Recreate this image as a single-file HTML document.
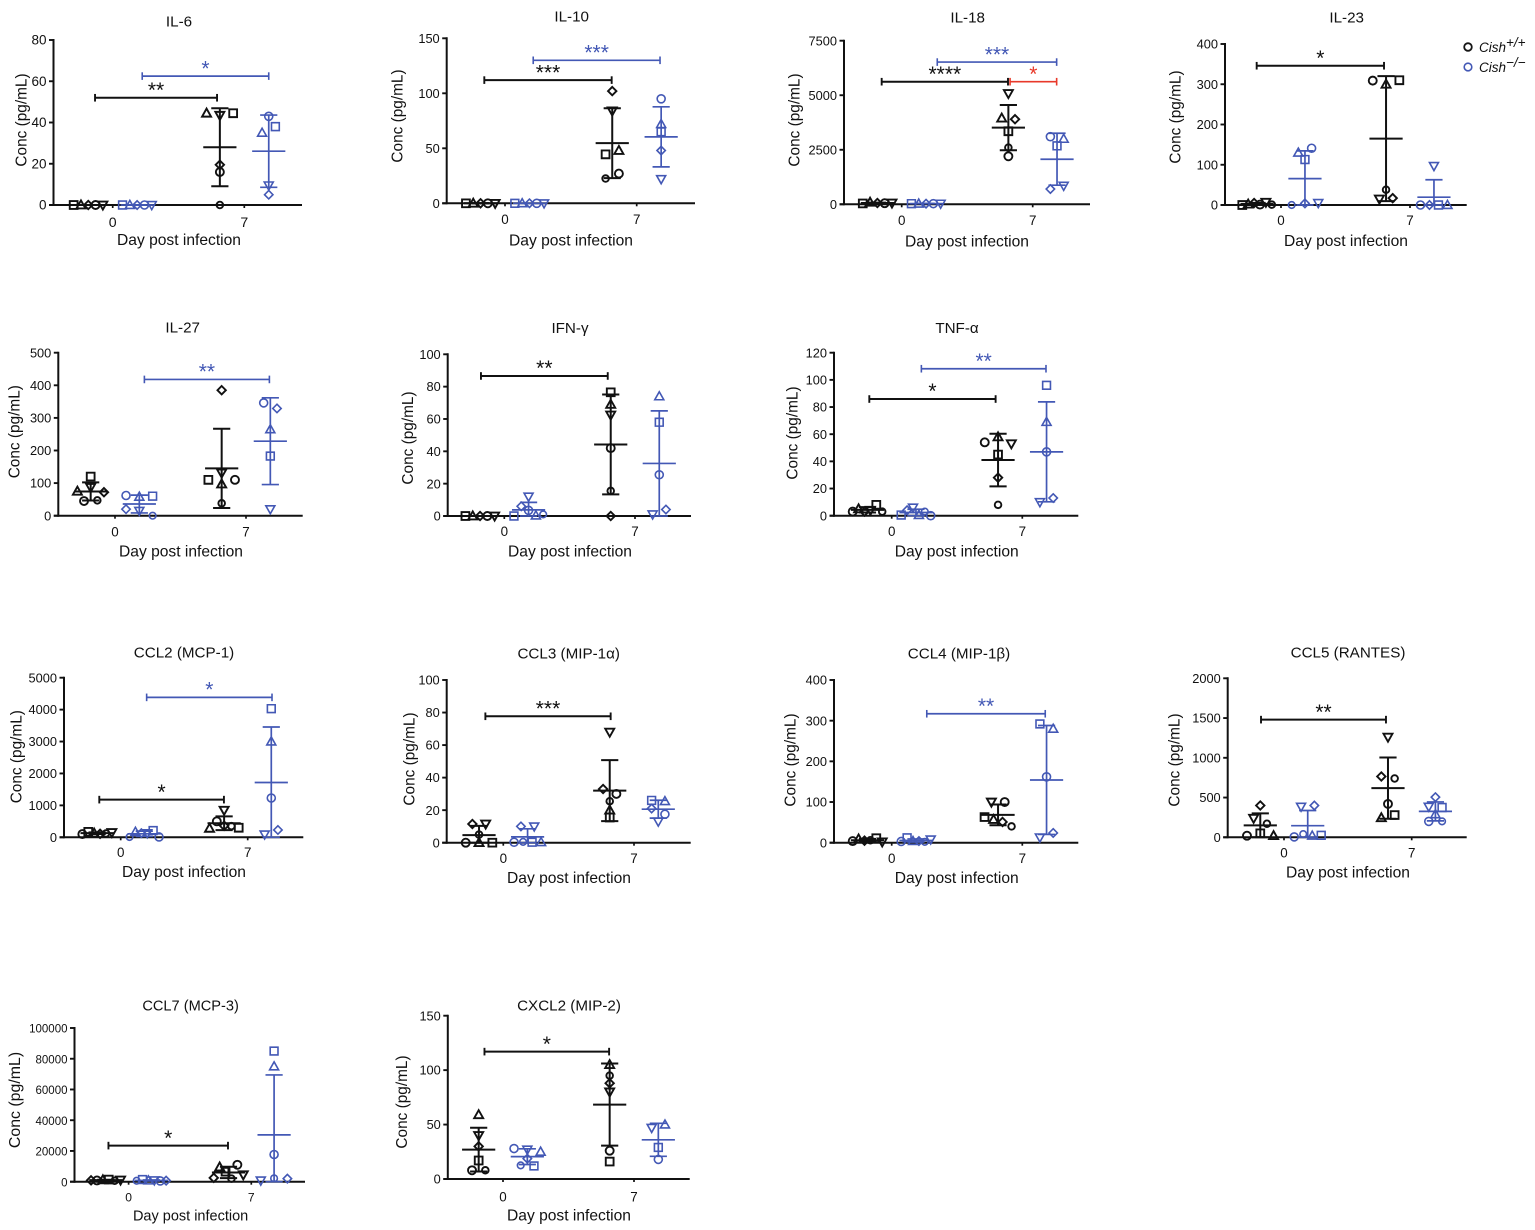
<!DOCTYPE html>
<html lang="en">
<head>
<meta charset="utf-8">
<title>Cytokine and chemokine concentrations in Cish+/+ and Cish-/- mice</title>
<style>
  html, body { margin: 0; padding: 0; background: #fff; width: 1535px; height: 1230px; overflow: hidden; }
  svg { display: block; }
  text { font-family: "Liberation Sans", "DejaVu Sans", sans-serif; fill: #111; }
</style>
</head>
<body>
<svg id="figure" xmlns="http://www.w3.org/2000/svg" width="1535" height="1230" viewBox="0 0 1535 1230">
  <g>
    <circle cx="1468" cy="47" r="3.8" fill="none" stroke="#151515" stroke-width="1.8"/>
    <text x="1479" y="52" font-size="13.5" font-style="italic">Cish<tspan dy="-5">+/+</tspan></text>
    <circle cx="1468" cy="67" r="3.8" fill="none" stroke="#4358b5" stroke-width="1.6"/>
    <text x="1479" y="72" font-size="13.5" font-style="italic">Cish<tspan dy="-5">−/−</tspan></text>
  </g>
</svg>
<script>
// Every group lists mice in the order: circle, square, triangle, diamond, down-triangle, hexagon.
const dayTicks = [0, 7];
const groupDays = [-1.3, 1.3, 5.7, 8.3];
const groupNames = ['wt-day0', 'ko-day0', 'wt-day7', 'ko-day7'];

const il6YTicks = [0, 20, 40, 60, 80];
const il6WtD0 = [0, 0, 0, 0, 0];
const il6KoD0 = [0, 0, 0, 0, 0];
const il6WtD7 = [16, 44.5, 44.5, 19.5, 43.5, 0];
const il6KoD7 = [43, 38, 35, 5, 9.5];
const il6Brackets = [[-0.94, 5.55, 52, '**', 'wt'], [1.57, 8.30, 62.5, '*', 'ko']];

const il10YTicks = [0, 50, 100, 150];
const il10WtD0 = [0, 0, 0, 0, 0];
const il10KoD0 = [0, 0, 0, 0, 0];
const il10WtD7 = [27, 44.5, 48, 102, 84, 22.5];
const il10KoD7 = [95, 65, 72, 48, 22];
const il10Brackets = [[-1.10, 5.67, 112, '***', 'wt'], [1.50, 8.24, 130, '***', 'ko']];

const il18YTicks = [0, 2500, 5000, 7500];
const il18WtD0 = [50, 40, 90, 60, 60];
const il18KoD0 = [30, 30, 30, 30, 30];
const il18WtD7 = [2200, 3350, 3950, 3900, 5080, 2600];
const il18KoD7 = [3100, 2680, 3000, 700, 850];
const il18Brackets = [[-1.07, 5.68, 5620, '****', 'wt'], [1.90, 8.28, 6520, '***', 'ko'], [5.79, 8.28, 5620, '*', 'diff']];

const il23YTicks = [0, 100, 200, 300, 400];
const il23WtD0 = [1, 0, 2, 5, 7, 1];
const il23KoD0 = [141, 113, 130, 4, 5, 0];
const il23WtD7 = [309, 310, 300, 17, 15, 38];
const il23KoD7 = [0, 0, 0, 0, 97];
const il23Brackets = [[-1.32, 5.59, 346, '*', 'wt']];

const il27YTicks = [0, 100, 200, 300, 400, 500];
const il27WtD0 = [45, 120, 75, 72, 87, 47];
const il27KoD0 = [62, 60, 58, 20, 15, 0];
const il27WtD7 = [110, 110, 97, 385, 131, 38];
const il27KoD7 = [346, 183, 265, 329, 20];
const il27Brackets = [[1.57, 8.25, 418, '**', 'ko']];

const ifnYTicks = [0, 20, 40, 60, 80, 100];
const ifnWtD0 = [0, 0, 0, 0, 0];
const ifnKoD0 = [3.5, 0, 0.3, 6, 12, 1];
const ifnWtD7 = [42, 76.5, 69, 0, 62.5, 15.5];
const ifnKoD7 = [25.5, 58, 74, 4, 1];
const ifnBrackets = [[-1.25, 5.54, 86.6, '**', 'wt']];

const tnfYTicks = [0, 20, 40, 60, 80, 100, 120];
const tnfWtD0 = [3, 8, 5, 3, 4, 3];
const tnfKoD0 = [0, 0.5, 0.5, 4, 6, 3];
const tnfWtD7 = [54, 45, 58, 28, 53, 8];
const tnfKoD7 = [47, 96, 69, 13, 10];
const tnfBrackets = [[-1.20, 5.57, 85.9, '*', 'wt'], [1.59, 8.27, 108.2, '**', 'ko']];

const ccl2YTicks = [0, 1000, 2000, 3000, 4000, 5000];
const ccl2WtD0 = [100, 170, 130, 110, 150, 120];
const ccl2KoD0 = [10, 210, 170, 130, 130, 10];
const ccl2WtD7 = [500, 300, 280, 360, 850, 350];
const ccl2KoD7 = [1230, 4030, 3000, 230, 90];
const ccl2Brackets = [[-1.18, 5.69, 1180, '*', 'wt'], [1.43, 8.34, 4384, '*', 'ko']];

const ccl3YTicks = [0, 20, 40, 60, 80, 100];
const ccl3WtD0 = [0, 0, 0, 11.5, 11.5, 5];
const ccl3KoD0 = [0.3, 0.3, 0.3, 10, 10, 0.5];
const ccl3WtD7 = [30, 15.5, 20, 33, 68, 25.5];
const ccl3KoD7 = [17.5, 26, 25.5, 21, 13];
const ccl3Brackets = [[-0.96, 5.75, 77.7, '***', 'wt']];

const ccl4YTicks = [0, 100, 200, 300, 400];
const ccl4WtD0 = [4, 11, 9, 5, 2, 6];
const ccl4KoD0 = [3, 12, 4, 4, 8, 2];
const ccl4WtD7 = [100, 63, 57, 51, 100, 40];
const ccl4KoD7 = [162, 292, 280, 24, 13];
const ccl4Brackets = [[1.88, 8.23, 317, '**', 'ko']];

const ccl5YTicks = [0, 500, 1000, 1500, 2000];
const ccl5WtD0 = [20, 50, 20, 400, 240, 170];
const ccl5KoD0 = [5, 25, 20, 400, 385, 40];
const ccl5WtD7 = [420, 280, 245, 765, 1260, 740];
const ccl5KoD7 = [200, 375, 290, 505, 385, 200];
const ccl5Brackets = [[-1.26, 5.59, 1480, '**', 'wt']];

const ccl7YTicks = [0, 20000, 40000, 60000, 80000, 100000];
const ccl7WtD0 = [800, 1400, 1200, 900, 1100, 600];
const ccl7KoD0 = [500, 1400, 800, 700, 900, 600];
const ccl7WtD7 = [11000, 6500, 9500, 2500, 4500, 2000];
const ccl7KoD7 = [17700, 85000, 75000, 2000, 800, 2200];
const ccl7Brackets = [[-1.15, 5.67, 23478, '*', 'wt']];

const cxcl2YTicks = [0, 50, 100, 150];
const cxcl2WtD0 = [8, 17, 59, 30, 40, 8];
const cxcl2KoD0 = [28, 12, 25, 18.7, 27, 12.5];
const cxcl2WtD7 = [26, 16, 105, 88, 80, 95];
const cxcl2KoD7 = [18, 29, 50, null, 47];
const cxcl2Brackets = [[-0.99, 5.67, 117, '*', 'wt']];

// Frame of each panel: axis position, label spots, and left-to-right mouse order in crowded rows.
const panels = [
  { id: 'il-6', title: 'IL-6', ticks: il6YTicks, groups: [il6WtD0, il6KoD0, il6WtD7, il6KoD7], brackets: il6Brackets, rowOrder: {},
    box: { axisX: 53.5, top: 40, bottom: 205, right: 302, t0: 112.7, t7: 244.3, titleX: 179, titleY: 21, xlabX: 179, xlabY: 240, tickY: 222, ylabX: 21, ylabY: 120, tickSize: 13.5 } },
  { id: 'il-10', title: 'IL-10', ticks: il10YTicks, groups: [il10WtD0, il10KoD0, il10WtD7, il10KoD7], brackets: il10Brackets, rowOrder: { 2: [1, 2, 5, 0] },
    box: { axisX: 446.7, top: 38.3, bottom: 203.3, right: 695, t0: 505, t7: 636.7, titleX: 571.7, titleY: 16, xlabX: 571, xlabY: 240.7, tickY: 219, ylabX: 397, ylabY: 116 } },
  { id: 'il-18', title: 'IL-18', ticks: il18YTicks, groups: [il18WtD0, il18KoD0, il18WtD7, il18KoD7], brackets: il18Brackets, rowOrder: { 3: [0, 2, 3, 4, 1] },
    box: { axisX: 844, top: 40.7, bottom: 204.3, right: 1090, t0: 901.7, t7: 1032.7, titleX: 967.7, titleY: 17, xlabX: 967, xlabY: 241.7, tickY: 220, ylabX: 794, ylabY: 120 } },
  { id: 'il-23', title: 'IL-23', ticks: il23YTicks, groups: [il23WtD0, il23KoD0, il23WtD7, il23KoD7], brackets: il23Brackets, rowOrder: { 1: [2, 0, 5, 3, 4, 1], 3: [0, 3, 1, 2, 4] },
    box: { axisX: 1225, top: 44, bottom: 205, right: 1466.7, t0: 1281, t7: 1410, titleX: 1346.7, titleY: 17, xlabX: 1346, xlabY: 241, tickY: 220, ylabX: 1175, ylabY: 117 } },
  { id: 'il-27', title: 'IL-27', ticks: il27YTicks, groups: [il27WtD0, il27KoD0, il27WtD7, il27KoD7], brackets: il27Brackets, rowOrder: { 1: [0, 2, 1, 3, 4], 2: [1, 2, 0] },
    box: { axisX: 58.3, top: 352.7, bottom: 515.7, right: 302.7, t0: 115, t7: 246, titleX: 182.7, titleY: 327, xlabX: 181, xlabY: 551.7, tickY: 531.7, ylabX: 14, ylabY: 431.7 } },
  { id: 'ifn-gamma', title: 'IFN-γ', ticks: ifnYTicks, groups: [ifnWtD0, ifnKoD0, ifnWtD7, ifnKoD7], brackets: ifnBrackets, rowOrder: { 1: [1, 3, 0, 2, 5, 4] },
    box: { axisX: 447.7, top: 354.3, bottom: 516, right: 691, t0: 504.3, t7: 635, titleX: 570, titleY: 327.7, xlabX: 570, xlabY: 551.7, tickY: 531, ylabX: 407.7, ylabY: 438 } },
  { id: 'tnf-alpha', title: 'TNF-α', ticks: tnfYTicks, groups: [tnfWtD0, tnfKoD0, tnfWtD7, tnfKoD7], brackets: tnfBrackets, rowOrder: { 0: [0, 2, 3, 4, 1, 5], 1: [1, 3, 4, 2, 5, 0] },
    box: { axisX: 834, top: 352.7, bottom: 515.7, right: 1078.3, t0: 891.7, t7: 1022.3, titleX: 957, titleY: 327.7, xlabX: 956.7, xlabY: 551.7, tickY: 531, ylabX: 792, ylabY: 433 } },
  { id: 'ccl2', title: 'CCL2 (MCP-1)', ticks: ccl2YTicks, groups: [ccl2WtD0, ccl2KoD0, ccl2WtD7, ccl2KoD7], brackets: ccl2Brackets, rowOrder: { 0: [0, 1, 2, 3, 5, 4], 1: [5, 2, 3, 4, 1, 0], 2: [2, 0, 3, 5, 1] },
    box: { axisX: 64, top: 677.7, bottom: 837.3, right: 303.3, t0: 120.7, t7: 247.7, titleX: 184, titleY: 652.3, xlabX: 184, xlabY: 872, tickY: 852, ylabX: 16, ylabY: 756.7 } },
  { id: 'ccl3', title: 'CCL3 (MIP-1α)', ticks: ccl3YTicks, groups: [ccl3WtD0, ccl3KoD0, ccl3WtD7, ccl3KoD7], brackets: ccl3Brackets, rowOrder: { 0: [3, 4, 0, 2, 1], 1: [3, 4, 0, 5, 1, 2], 2: [3, 0], 3: [1, 2, 3, 0, 4] },
    box: { axisX: 446.7, top: 680, bottom: 842.7, right: 690.7, t0: 503.3, t7: 634, titleX: 568.7, titleY: 653, xlabX: 569, xlabY: 878, tickY: 858, ylabX: 409, ylabY: 759 } },
  { id: 'ccl4', title: 'CCL4 (MIP-1β)', ticks: ccl4YTicks, groups: [ccl4WtD0, ccl4KoD0, ccl4WtD7, ccl4KoD7], brackets: ccl4Brackets, rowOrder: { 0: [0, 2, 3, 5, 1, 4], 1: [0, 1, 2, 3, 5, 4], 2: [4, 0, 1, 2, 3], 3: [1, 2, 4, 3] },
    box: { axisX: 834, top: 680, bottom: 842.7, right: 1078.3, t0: 891.7, t7: 1022.3, titleX: 959, titleY: 653, xlabX: 956.7, xlabY: 878, tickY: 858, ylabX: 790, ylabY: 760 } },
  { id: 'ccl5', title: 'CCL5 (RANTES)', ticks: ccl5YTicks, groups: [ccl5WtD0, ccl5KoD0, ccl5WtD7, ccl5KoD7], brackets: ccl5Brackets, rowOrder: { 0: [4, 5, 0, 1, 2, 3], 1: [4, 3, 0, 5, 2, 1] },
    box: { axisX: 1227.7, top: 678.3, bottom: 837.3, right: 1466.7, t0: 1284, t7: 1411.7, titleX: 1348, titleY: 652.3, xlabX: 1348, xlabY: 872.3, tickY: 852.7, ylabX: 1174, ylabY: 760 } },
  { id: 'ccl7', title: 'CCL7 (MCP-3)', ticks: ccl7YTicks, groups: [ccl7WtD0, ccl7KoD0, ccl7WtD7, ccl7KoD7], brackets: ccl7Brackets, rowOrder: { 0: [3, 0, 2, 1, 5, 4], 1: [5, 1, 2, 4, 0, 3], 2: [3, 2, 1, 5, 0, 4], 3: [4, 5, 3] },
    box: { axisX: 74.5, top: 1028, bottom: 1181.7, right: 305, t0: 128.6, t7: 251.3, titleX: 190.6, titleY: 1005, xlabX: 190.6, xlabY: 1215.7, tickY: 1196.7, ylabX: 14.7, ylabY: 1100, tickSize: 11.5, labelSize: 14.5, ylabSize: 15.9, titleSize: 14.6 } },
  { id: 'cxcl2', title: 'CXCL2 (MIP-2)', ticks: cxcl2YTicks, groups: [cxcl2WtD0, cxcl2KoD0, cxcl2WtD7, cxcl2KoD7], brackets: cxcl2Brackets, rowOrder: { 1: [0, 4, 2, 5, 1], 3: [4, 2] },
    box: { axisX: 447.8, top: 1015.7, bottom: 1179, right: 689.7, t0: 503, t7: 634, titleX: 569, titleY: 1005, xlabX: 569, xlabY: 1215.7, tickY: 1196.7, ylabX: 401.8, ylabY: 1102 } }
];

const colors = { wt: '#111111', ko: '#4358b5', diff: '#e8392a' };
const widths = { wt: 2, ko: 1.7, diff: 1.7 };
const shapeNames = ['circle', 'square', 'triangle', 'diamond', 'down-triangle', 'hexagon'];
const narrowRowOrder = [0, 2, 4, 3, 5, 1]; // default left-to-right mice in rows of up to 3
const wideRowOrder = [1, 2, 3, 0, 4, 5];   // default left-to-right mice in crowded rows

const NS = 'http://www.w3.org/2000/svg';
const figure = document.getElementById('figure');

function add(parent, tag, name, attrs, text) {
  const el = document.createElementNS(NS, tag);
  
  
  for (const key of Object.keys(attrs)) el.setAttribute(key, attrs[key]);
  if (text !== undefined) el.textContent = text;
  parent.appendChild(el);
  return el;
}

function line(parent, name, x1, y1, x2, y2, color, width) {
  return add(parent, 'line', name, { x1: x1, y1: y1, x2: x2, y2: y2, stroke: color, 'stroke-width': width, 'stroke-linecap': 'butt' });
}

function marker(parent, mouse, x, y, color, width) {
  const name = 'point-' + shapeNames[mouse];
  const common = { fill: 'none', stroke: color, 'stroke-width': width };
  if (mouse === 0) return add(parent, 'circle', name, Object.assign({ cx: x, cy: y, r: 4 }, common));
  if (mouse === 5) return add(parent, 'circle', name, Object.assign({ cx: x, cy: y, r: 3.3 }, common));
  let pts;
  if (mouse === 1) pts = [[-3.9, -3.9], [3.9, -3.9], [3.9, 3.9], [-3.9, 3.9]];
  if (mouse === 2) pts = [[0, -4.6], [4.5, 3.4], [-4.5, 3.4]];
  if (mouse === 3) pts = [[0, -4.2], [4.2, 0], [0, 4.2], [-4.2, 0]];
  if (mouse === 4) pts = [[-4.5, -3.4], [4.5, -3.4], [0, 4.6]];
  return add(parent, 'polygon', name, Object.assign({ points: pts.map(p => (x + p[0]) + ',' + (y + p[1])).join(' ') }, common));
}

// Points of similar height share a row and spread sideways, centred on the group.
function swarm(values, yScale, order) {
  const items = [];
  values.forEach((v, i) => { if (v !== null) items.push({ mouse: i, y: yScale(v) }); });
  items.sort((a, b) => a.y - b.y);
  const rows = [];
  items.forEach(item => {
    const row = rows[rows.length - 1];
    if (row && item.y - row[row.length - 1].y < 6.5) row.push(item);
    else rows.push([item]);
  });
  rows.forEach(row => {
    const n = row.length;
    const step = n <= 3 ? 13.3 : (n === 4 ? 9 : (n === 5 ? 7.3 : 5.9));
    const sequence = order || (n <= 3 ? narrowRowOrder : wideRowOrder);
    const rank = item => {
      const at = sequence.indexOf(item.mouse);
      return at < 0 ? 9 : at;
    };
    row.sort((a, b) => rank(a) - rank(b));
    row.forEach((item, i) => { item.dx = (i - (n - 1) / 2) * step; });
  });
  return items;
}

function stats(values) {
  const v = values.filter(d => d !== null);
  const mean = v.reduce((s, d) => s + d, 0) / v.length;
  const sd = Math.sqrt(v.reduce((s, d) => s + (d - mean) * (d - mean), 0) / (v.length - 1));
  return { mean: mean, sd: sd };
}

function drawPanel(panel) {
  const b = panel.box;
  const maxY = panel.ticks[panel.ticks.length - 1];
  const xScale = day => b.t0 + day * (b.t7 - b.t0) / 7;
  const yScale = value => b.bottom - value * (b.bottom - b.top) / maxY;
  const tickSize = b.tickSize || 12.8;
  const labelSize = b.labelSize || 15.6;
  const ylabSize = b.ylabSize || 15.4;
  const titleSize = b.titleSize || 15.2;
  const g = add(figure, 'g', 'panel-' + panel.id, {});

  add(g, 'text', 'panel-title', { x: b.titleX, y: b.titleY + 5.3, 'font-size': titleSize, 'text-anchor': 'middle' }, panel.title);
  add(g, 'text', 'x-axis-title', { x: b.xlabX, y: b.xlabY + 5, 'font-size': labelSize, 'text-anchor': 'middle' }, 'Day post infection');
  add(g, 'text', 'y-axis-title', { x: 0, y: 0, 'font-size': ylabSize, 'text-anchor': 'middle', transform: 'translate(' + (b.ylabX + 5.3) + ' ' + b.ylabY + ') rotate(-90)' }, 'Conc (pg/mL)');

  line(g, 'y-axis', b.axisX, b.top - 1, b.axisX, b.bottom + 1, colors.wt, 2);
  line(g, 'x-axis', b.axisX - 4.5, b.bottom, b.right, b.bottom, colors.wt, 2);
  panel.ticks.forEach(t => {
    line(g, 'y-tick', b.axisX - 4.5, yScale(t), b.axisX, yScale(t), colors.wt, 1.9);
    add(g, 'text', 'y-tick-label', { x: b.axisX - 7, y: yScale(t) + 4.6, 'font-size': tickSize, 'text-anchor': 'end' }, String(t));
  });
  dayTicks.forEach(d => {
    line(g, 'x-tick', xScale(d), b.bottom, xScale(d), b.bottom + 3, colors.wt, 1.7);
    add(g, 'text', 'x-tick-label', { x: xScale(d), y: b.tickY + 4.8, 'font-size': tickSize + 0.6, 'text-anchor': 'middle' }, String(d));
  });

  panel.groups.forEach((values, gi) => {
    const kind = gi % 2 === 0 ? 'wt' : 'ko';
    const color = colors[kind];
    const width = widths[kind];
    const cx = xScale(groupDays[gi]);
    const group = add(g, 'g', 'series-' + groupNames[gi], {});
    const s = stats(values);
    const hi = Math.min(maxY, s.mean + s.sd);
    const lo = Math.max(0, s.mean - s.sd);
    line(group, 'error-bar', cx, yScale(hi), cx, yScale(lo), color, width);
    line(group, 'error-cap-upper', cx - 8.6, yScale(hi), cx + 8.6, yScale(hi), color, width);
    line(group, 'error-cap-lower', cx - 8.6, yScale(lo), cx + 8.6, yScale(lo), color, width);
    line(group, 'mean-line', cx - 16.6, yScale(s.mean), cx + 16.6, yScale(s.mean), color, width);
    swarm(values, yScale, panel.rowOrder[gi]).forEach(p => marker(group, p.mouse, cx + p.dx, p.y, color, width - 0.1));
  });

  panel.brackets.forEach(br => {
    const x1 = xScale(br[0]);
    const x2 = xScale(br[1]);
    const y = yScale(br[2]);
    const color = colors[br[4]];
    const weight = widths[br[4]];
    const wrap = add(g, 'g', 'significance-bracket', {});
    line(wrap, 'bracket-line', x1, y, x2, y, color, weight);
    line(wrap, 'bracket-end', x1, y - 3.8, x1, y + 3.8, color, weight - 0.1);
    line(wrap, 'bracket-end', x2, y - 3.8, x2, y + 3.8, color, weight - 0.1);
    add(wrap, 'text', 'significance-stars', { x: (x1 + x2) / 2, y: y - 0.8, 'font-size': 21, 'text-anchor': 'middle', style: 'fill:' + color }, br[3]);
  });
}

panels.forEach(drawPanel);
</script>
</body>
</html>
